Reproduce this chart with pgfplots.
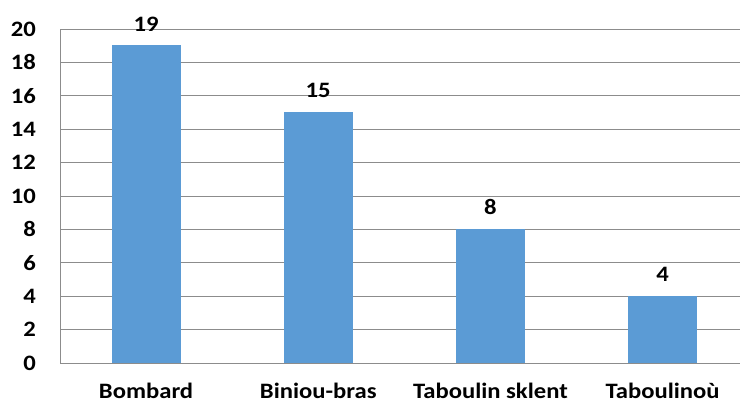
\documentclass[border=0pt]{standalone}
\usepackage{fontspec}
\setmainfont{Carlito}[FakeStretch=1.12]
\usepackage{pgfplots}
\pgfplotsset{compat=1.18}
\definecolor{barblue}{HTML}{5B9BD5}
\definecolor{gridgray}{HTML}{8C8C8C}
\begin{document}
\begin{tikzpicture}
\begin{axis}[
  scale only axis, width=680pt, height=334pt,
  xmin=-0.5, xmax=3.45, ymin=0, ymax=20,
  ytick={0,2,...,20},
  xtick={0,1,2,3},
  xticklabels={Bombard, Biniou-bras, Taboulin sklent, Taboulinoù},
  ymajorgrids,
  grid style={gridgray, line width=0.9pt},
  axis x line*=bottom, axis y line*=left,
  axis line style={gridgray, line width=0.9pt, -},
  major tick length=0pt,
  tick style={draw=none},
  /pgf/number format/assume math mode=true,
  tick label style={font=\fontsize{22}{26}\selectfont\bfseries, text=black},
  yticklabel style={anchor=east, inner sep=0pt, xshift=-24pt},
  xticklabel style={anchor=north, inner sep=0pt, yshift=-20pt},
  ybar, bar width=68pt,
  nodes near coords,
  every node near coord/.append style={font=\fontsize{22}{26}\selectfont\bfseries, text=black, yshift=11pt},
]
\addplot[fill=barblue, draw=barblue] coordinates {(0,19) (1,15) (2,8) (3,4)};
\coordinate (BL) at (axis description cs:-0.08824,-0.1290);
\coordinate (TR) at (axis description cs:1,1.0868);
\end{axis}
\pgfresetboundingbox
\path[use as bounding box] (BL) rectangle (TR);
\end{tikzpicture}
\end{document}
